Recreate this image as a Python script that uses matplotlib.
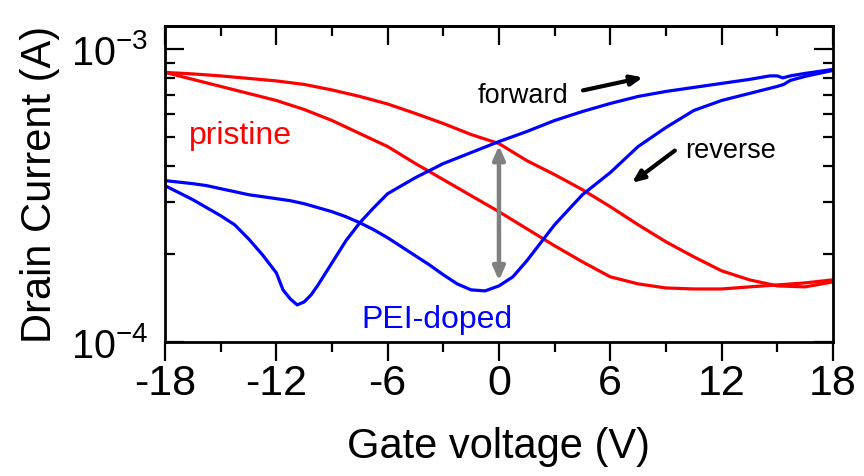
import matplotlib
matplotlib.use("Agg")
import matplotlib.pyplot as plt
from matplotlib.ticker import FixedLocator, FixedFormatter, LogLocator, NullFormatter

plt.rcParams['font.family'] = ['Liberation Sans', 'DejaVu Sans']
plt.rcParams['mathtext.fontset'] = 'custom'
plt.rcParams['mathtext.rm'] = 'Liberation Sans'
plt.rcParams['axes.unicode_minus'] = False

# ---- data: gate voltage (V) and drain current (A) ----
grid_v = [-18, -16.5, -15, -13.5, -12, -10.5, -9, -7.5, -6, -4.5, -3, -1.5, 0,
          1.5, 3, 4.5, 6, 7.5, 9, 10.5, 12, 13.5, 15, 16.5, 18]

pristine_a_v = grid_v
pristine_a_i = [8.341e-4, 8.243e-4, 8.115e-4, 7.957e-4, 7.801e-4, 7.589e-4, 7.266e-4, 6.903e-4,
                6.506e-4, 6.036e-4, 5.580e-4, 5.116e-4, 4.765e-4, 4.167e-4, 3.732e-4, 3.315e-4,
                2.900e-4, 2.516e-4, 2.200e-4, 1.955e-4, 1.751e-4, 1.631e-4, 1.555e-4, 1.543e-4,
                1.605e-4]

pristine_b_v = grid_v
pristine_b_i = [8.341e-4, 7.894e-4, 7.470e-4, 7.068e-4, 6.688e-4, 6.230e-4, 5.713e-4, 5.156e-4,
                4.654e-4, 4.071e-4, 3.588e-4, 3.162e-4, 2.788e-4, 2.438e-4, 2.132e-4, 1.879e-4,
                1.670e-4, 1.580e-4, 1.530e-4, 1.518e-4, 1.518e-4, 1.543e-4, 1.567e-4, 1.592e-4,
                1.631e-4]

doped_fwd_v = [-18, -16.5, -15, -14.25, -13.5, -12.75, -12, -11.64, -11.25, -10.875, -10.5,
               -10.125, -9.75, -9, -8.25, -7.5, -6.75, -6, -4.5, -3, -1.5, 0, 1.5, 3, 4.5,
               6, 7.5, 9, 10.5, 12, 13.5, 14.6, 15.0, 15.3, 15.7, 16.5, 18]
doped_fwd_i = [3.422e-4, 3.064e-4, 2.701e-4, 2.516e-4, 2.253e-4, 1.987e-4, 1.723e-4, 1.507e-4,
               1.404e-4, 1.339e-4, 1.371e-4, 1.449e-4, 1.567e-4, 1.864e-4, 2.218e-4, 2.556e-4,
               2.877e-4, 3.212e-4, 3.645e-4, 4.071e-4, 4.439e-4, 4.841e-4, 5.238e-4, 5.713e-4,
               6.132e-4, 6.532e-4, 6.903e-4, 7.181e-4, 7.411e-4, 7.649e-4, 7.894e-4, 8.115e-4,
               8.115e-4, 7.988e-4, 8.115e-4, 8.276e-4, 8.540e-4]

doped_rev_v = [18, 16.5, 15.7, 15.35, 15.0, 13.5, 12, 10.5, 9, 7.5, 6, 4.5, 3, 1.5, 0.75, 0,
               -0.75, -1.5, -2.25, -3, -3.75, -4.5, -5.25, -6, -6.75, -7.5, -8.25, -9, -9.75,
               -10.5, -11.25, -12, -12.75, -13.5, -14.25, -15, -15.75, -16.5, -17.25, -18]
doped_rev_i = [8.473e-4, 8.083e-4, 7.832e-4, 7.589e-4, 7.470e-4, 7.068e-4, 6.688e-4, 6.181e-4,
               5.406e-4, 4.654e-4, 3.792e-4, 3.187e-4, 2.516e-4, 1.894e-4, 1.670e-4, 1.555e-4,
               1.495e-4, 1.507e-4, 1.580e-4, 1.697e-4, 1.835e-4, 1.970e-4, 2.115e-4, 2.271e-4,
               2.419e-4, 2.556e-4, 2.680e-4, 2.788e-4, 2.877e-4, 2.969e-4, 3.040e-4, 3.089e-4,
               3.138e-4, 3.187e-4, 3.264e-4, 3.341e-4, 3.422e-4, 3.476e-4, 3.518e-4, 3.560e-4]

x_ticks = [-18, -12, -6, 0, 6, 12, 18]
x_minor = [-15, -9, -3, 3, 9, 15]
x_tick_labels = ['-18', '-12', '-6', '0', '6', '12', '18']
y_ticks = [1e-4, 1e-3]
y_tick_labels = [r'$\mathregular{10^{-4}}$', r'$\mathregular{10^{-3}}$']

fig = plt.figure(figsize=(8.64, 4.76), dpi=100)
ax = fig.add_axes([0.191, 0.2815, 0.773, 0.6635])

lw = 2.3
kw = dict(lw=lw, solid_joinstyle='round', solid_capstyle='round')
ax.plot(pristine_a_v, pristine_a_i, color='#ff0000', **kw)
ax.plot(pristine_b_v, pristine_b_i, color='#ff0000', **kw)
ax.plot(doped_fwd_v, doped_fwd_i, color='#0000ff', **kw)
ax.plot(doped_rev_v, doped_rev_i, color='#0000ff', **kw)

ax.set_yscale('log')
ax.set_xlim(-18, 18)
ax.set_ylim(1e-4, 1.2e-3)

ax.xaxis.set_major_locator(FixedLocator(x_ticks))
ax.xaxis.set_major_formatter(FixedFormatter(x_tick_labels))
ax.xaxis.set_minor_locator(FixedLocator(x_minor))
ax.yaxis.set_major_locator(FixedLocator(y_ticks))
ax.yaxis.set_major_formatter(FixedFormatter(y_tick_labels))
ax.yaxis.set_minor_locator(LogLocator(base=10, subs=range(2, 10)))
ax.yaxis.set_minor_formatter(NullFormatter())

for s in ax.spines.values():
    s.set_linewidth(2.0)

MAJ, MIN = 13.5, 7.5
ax.tick_params(axis='x', which='both', direction='out', bottom=True, top=False,
               labelsize=31, pad=2, width=1.6)
ax.tick_params(axis='x', which='major', length=MAJ)
ax.tick_params(axis='x', which='minor', length=MIN)
ax.tick_params(axis='y', which='both', direction='in', left=True, right=True,
               labelsize=28.5, pad=12, width=1.6)
ax.tick_params(axis='y', which='major', length=MAJ)
ax.tick_params(axis='y', which='minor', length=MIN)

# top axis ticks pointing inward
sec = ax.secondary_xaxis('top')
sec.xaxis.set_major_locator(FixedLocator(x_ticks))
sec.xaxis.set_minor_locator(FixedLocator(x_minor))
sec.tick_params(which='both', direction='in', labeltop=False, width=1.6)
sec.tick_params(which='major', length=MAJ)
sec.tick_params(which='minor', length=MIN)
sec.spines['top'].set_linewidth(2.0)

ax.set_xlabel('Gate voltage (V)', fontsize=30, labelpad=17)
ax.set_ylabel('Drain Current (A)', fontsize=30, labelpad=8)

ax.text(-13.96, 4.76e-4, 'pristine', color='#ff0000', fontsize=23, ha='center', va='baseline')
ax.text(-3.34, 1.117e-4, 'PEI-doped', color='#0000ff', fontsize=23, ha='center', va='baseline')
ax.text(1.29, 6.58e-4, 'forward', color='black', fontsize=19.5, ha='center', va='baseline')
ax.text(12.5, 4.27e-4, 'reverse', color='black', fontsize=19.5, ha='center', va='baseline')

ax.annotate('', xy=(7.76, 8.02e-4), xytext=(4.53, 7.24e-4),
            arrowprops=dict(arrowstyle='-|>,head_length=0.7,head_width=0.3', color='black', lw=3,
                            shrinkA=0, shrinkB=0))
ax.annotate('', xy=(7.17, 3.50e-4), xytext=(9.48, 4.51e-4),
            arrowprops=dict(arrowstyle='-|>,head_length=0.7,head_width=0.3', color='black', lw=3,
                            shrinkA=0, shrinkB=0))
ax.annotate('', xy=(0.0, 1.62e-4), xytext=(0.0, 4.69e-4),
            arrowprops=dict(arrowstyle='<|-|>,head_length=0.8,head_width=0.35', color='#808080',
                            lw=3.2, shrinkA=0, shrinkB=0))

fig.savefig('out.png', dpi=100)
